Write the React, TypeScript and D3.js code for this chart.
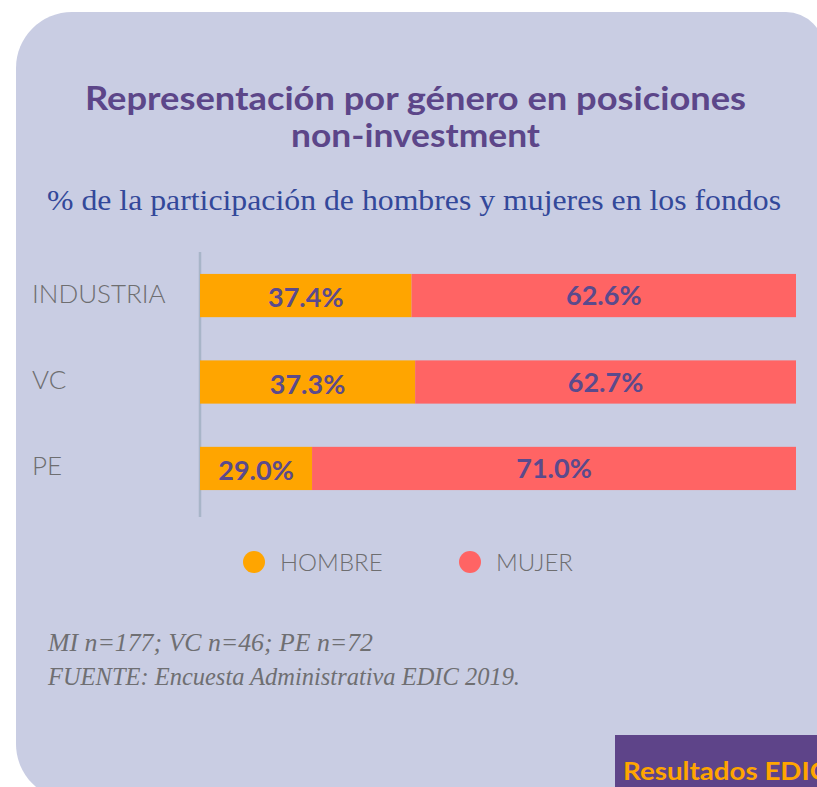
import React from 'react'
import * as d3 from 'd3'

// categories and values
const categories = ['INDUSTRIA', 'VC', 'PE']
const hombreLabels = [37.4, 37.3, 29.0]
const mujerLabels = [62.6, 62.7, 71.0]
// split points as drawn in the original graphic (share of the bar, %)
const hombreDrawn = [35.5, 36.1, 18.8]
const seriesNames = ['HOMBRE', 'MUJER']
const seriesColors = ['#FFA500', '#FF6464']

const W = 817
const H = 787
const cardFill = '#C9CDE3'
const purple = '#5C4689'
const labelPurple = '#5B4A8C'
const gray = '#6E6E70'

function cardPath(x0: number, y0: number, x1: number, y1: number, rtl: number, rtr: number, rbl: number) {
  const p = d3.path()
  p.moveTo(x0 + rtl, y0)
  p.lineTo(x1 - rtr, y0)
  p.arcTo(x1, y0, x1, y0 + rtr, rtr)
  p.lineTo(x1, y1)
  p.lineTo(x0 + rbl, y1)
  p.arcTo(x0, y1, x0, y1 - rbl, rbl)
  p.lineTo(x0, y0 + rtl)
  p.arcTo(x0, y0, x0 + rtl, y0, rtl)
  p.closePath()
  return p.toString()
}

export default function App() {
  const x = d3.scaleLinear().domain([0, 100]).range([200, 796])
  const y = d3.scaleBand<string>().domain(categories).range([248, 516]).paddingInner(0.5).paddingOuter(0.3)
  const bw = y.bandwidth()

  const rows = categories.map((c, i) => ({
    cat: c,
    split: hombreDrawn[i],
    h: hombreLabels[i],
    m: mujerLabels[i],
  }))

  const sans = 'Lato, "Open Sans", sans-serif'
  const serif = '"Liberation Serif", "DejaVu Serif", serif'

  return (
    <svg width={W} height={H} viewBox={`0 0 ${W} ${H}`} style={{ position: 'absolute', left: 0, top: 0, background: '#fff' }}>
      <path d={cardPath(16, 12, 824, 800, 56, 38, 56)} fill={cardFill} />

      <text x={415.5} y={110} textAnchor="middle" fontFamily={sans} fontWeight={700} fontSize={33} fill={purple}
        textLength={661} lengthAdjust="spacingAndGlyphs">
        Representación por género en posiciones
      </text>
      <text x={415.5} y={147} textAnchor="middle" fontFamily={sans} fontWeight={700} fontSize={33} fill={purple}
        textLength={249} lengthAdjust="spacingAndGlyphs">
        non-investment
      </text>

      <text x={414} y={210} textAnchor="middle" fontFamily={serif} fontSize={29} fill="#33489A"
        textLength={734} lengthAdjust="spacingAndGlyphs">
        % de la participación de hombres y mujeres en los fondos
      </text>

      {/* axis line */}
      <line x1={x(0)} x2={x(0)} y1={252} y2={517} stroke="#A8B5C8" strokeWidth={2.5} />

      {rows.map((r) => {
        const y0 = y(r.cat)!
        const cy = y0 + bw / 2
        return (
          <g key={r.cat}>
            <text x={32} y={cy - 3} dominantBaseline="central" fontFamily={sans} fontWeight={300} fontSize={26} fill={gray}>
              {r.cat}
            </text>
            <rect x={x(0)} y={y0} width={x(r.split) - x(0)} height={bw} fill={seriesColors[0]} />
            <rect x={x(r.split)} y={y0} width={x(100) - x(r.split)} height={bw} fill={seriesColors[1]} />
            <text x={(x(0) + x(r.split)) / 2} y={cy + 1} textAnchor="middle" dominantBaseline="central"
              fontFamily={sans} fontWeight={700} fontSize={27} fill={labelPurple}>
              {d3.format('.1f')(r.h)}%
            </text>
            <text x={(x(r.split) + x(100)) / 2} y={cy - 1} textAnchor="middle" dominantBaseline="central"
              fontFamily={sans} fontWeight={700} fontSize={27} fill={labelPurple}>
              {d3.format('.1f')(r.m)}%
            </text>
          </g>
        )
      })}

      {/* legend */}
      {seriesNames.map((s, i) => {
        const lx = i === 0 ? 254 : 470
        return (
          <g key={s}>
            <circle cx={lx} cy={562} r={11} fill={seriesColors[i]} />
            <text x={lx + 26} y={571} fontFamily={sans} fontWeight={300} fontSize={24} fill={gray}>{s}</text>
          </g>
        )
      })}

      <text x={48} y={651} fontFamily={serif} fontStyle="italic" fontSize={25} fill="#6F6F72"
        textLength={325} lengthAdjust="spacingAndGlyphs">
        MI n=177; VC n=46; PE n=72
      </text>
      <text x={48} y={685} fontFamily={serif} fontStyle="italic" fontSize={25} fill="#6F6F72"
        textLength={472} lengthAdjust="spacingAndGlyphs">
        FUENTE: Encuesta Administrativa EDIC 2019.
      </text>

      {/* badge */}
      <path d={cardPath(615, 735, 830, 800, 0, 10, 0)} fill="#5E4489" />
      <text x={623} y={780} fontFamily={sans} fontWeight={700} fontSize={24} fill="#FFA500"
        textLength={205} lengthAdjust="spacingAndGlyphs">Resultados EDIC</text>
    </svg>
  )
}
